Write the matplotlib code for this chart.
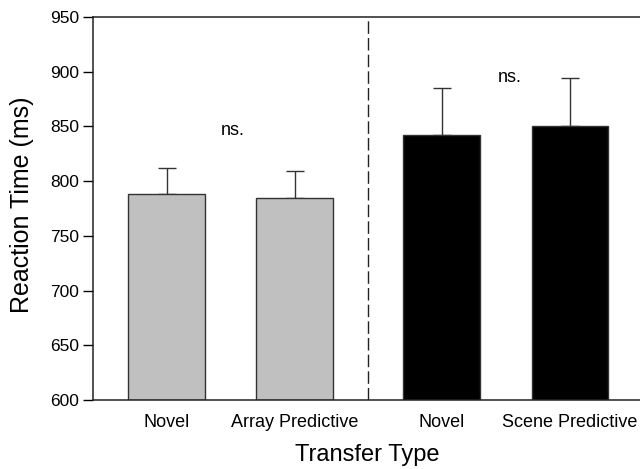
import matplotlib
matplotlib.use("Agg")
import matplotlib.pyplot as plt

# mean reaction times and standard errors per transfer condition
conditions = ["Novel", "Array Predictive", "Novel", "Scene Predictive"]
positions = [0, 1, 2.15, 3.15]
mean_rt = [788, 785, 842, 850]
sem_rt = [24, 24, 43, 44]
bar_colors = ["#c0c0c0", "#c0c0c0", "#000000", "#000000"]

# "ns." annotations (x, y in data units)
ns_x = [0.52, 2.68]
ns_y = [846, 895]
divider_x = 1.575

y_ticks = [600, 650, 700, 750, 800, 850, 900, 950]


def plot_transfer():
    plt.rcParams["font.family"] = ["Liberation Sans", "DejaVu Sans"]
    fig = plt.figure(figsize=(6.4, 4.69), dpi=100)
    ax = fig.add_axes([93 / 640, 69 / 469, 550 / 640, 383 / 469])

    ax.bar(positions, [m - 600 for m in mean_rt], width=0.6, bottom=600,
           color=bar_colors, edgecolor="#333333", linewidth=1.0, zorder=2)
    ax.errorbar(positions, mean_rt, yerr=[[0] * 4, sem_rt], fmt="none",
                ecolor="#333333", elinewidth=1.0, capsize=6.5, capthick=1.0,
                zorder=1)

    ax.axvline(divider_x, color="#222222", linewidth=1.0,
               linestyle=(0, (9, 3)), zorder=1)

    for x, y in zip(ns_x, ns_y):
        ax.text(x, y, "ns.", ha="center", va="center", fontsize=13)

    ax.set_xlim(-0.574, 3.72)
    ax.set_ylim(600, 950)
    ax.set_yticks(y_ticks)
    ax.set_xticks(positions)
    ax.set_xticklabels(conditions, fontsize=13)
    ax.tick_params(axis="x", length=0, pad=10)
    ax.tick_params(axis="y", length=7, width=1.0, pad=3, labelsize=12.5)

    ax.spines["right"].set_visible(False)
    for side in ["left", "top", "bottom"]:
        ax.spines[side].set_linewidth(1.1)
        ax.spines[side].set_color("#222222")

    fig.text(22 / 640, 1 - 205 / 469, "Reaction Time (ms)", rotation=90,
             ha="center", va="center", fontsize=18)
    fig.text(367 / 640, 1 - 455 / 469, "Transfer Type", ha="center",
             va="center", fontsize=17)

    fig.savefig("out.png", dpi=100)


if __name__ == "__main__":
    plot_transfer()
